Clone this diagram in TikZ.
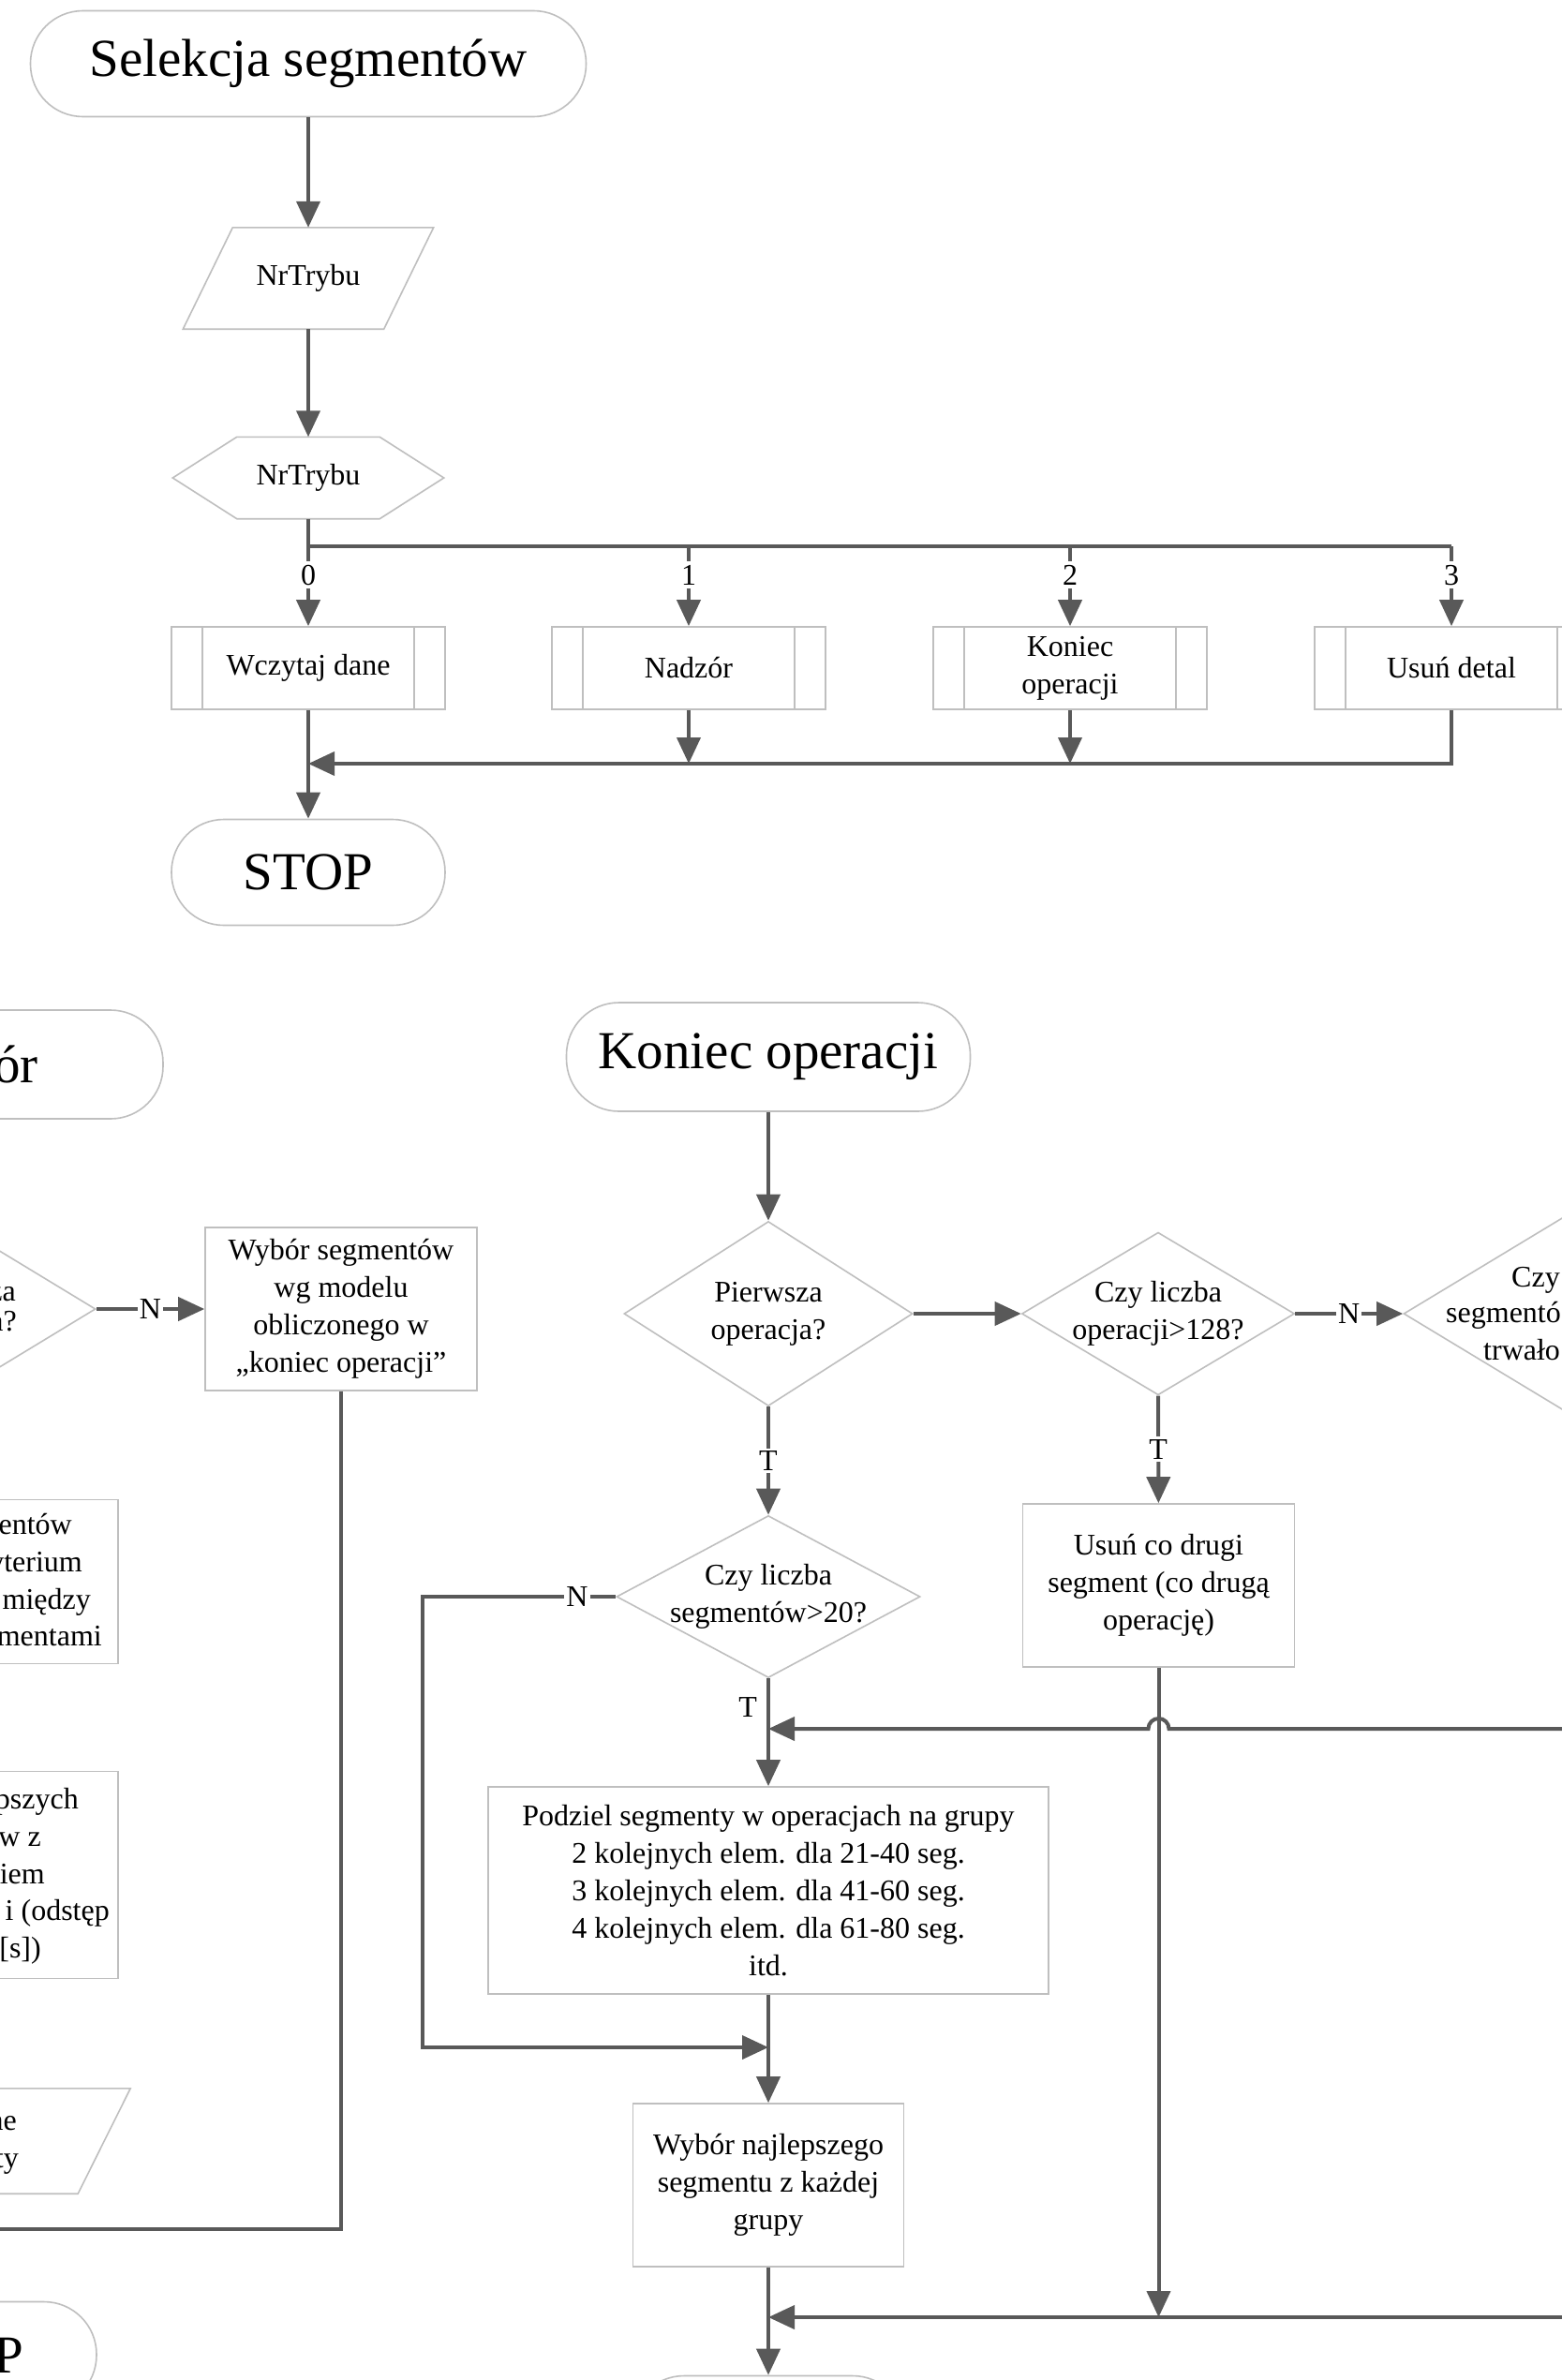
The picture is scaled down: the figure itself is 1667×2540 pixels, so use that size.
\documentclass[tikz,border=0pt]{standalone}
\usepackage{fontspec}
\setmainfont{Liberation Serif}
\usetikzlibrary{shapes.geometric,arrows.meta}

\begin{document}
\begin{tikzpicture}[x=1pt,y=1pt,yscale=-1,
  ln/.style={draw={rgb, 255:red, 89; green, 89; blue, 89}, line width=4pt},
  arr/.style={ln, -{Triangle[length=28pt,width=25pt]}},
  bd/.style={draw={rgb, 255:red, 191; green, 191; blue, 191}, line width=1.6pt},
  txt/.style={font=\fontsize{32}{40}\selectfont, inner sep=0pt, align=center},
  big/.style={font=\fontsize{57}{68}\selectfont},
  term/.style={bd, txt, big, rectangle, rounded corners=56pt, minimum height=113pt},
  proc/.style={bd, txt, rectangle},
  dec/.style={bd, txt, diamond},
  lab/.style={font=\fontsize{32}{40}\selectfont, fill=white, inner sep=3pt},
  frag/.style={font=\fontsize{32}{40}\selectfont, inner sep=0pt}
]
\useasboundingbox (0,0) rectangle (1667,2540);
\clip (0,0) rectangle (1667,2540);
\fill[white] (0,0) rectangle (1667,2540);

\node[term, minimum width=593pt] (start) at (329,68) {Selekcja segmentów};
\node[txt, minimum width=214pt, minimum height=108pt] (nr) at (329,297) {NrTrybu};
\draw[bd] ([xshift=26.5pt]nr.north west) -- ([xshift=26.5pt]nr.north east) -- ([xshift=-26.5pt]nr.south east) -- ([xshift=-26.5pt]nr.south west) -- cycle;
\node[txt, minimum width=289pt, minimum height=87pt] (sel) at (329,510) {NrTrybu};
\draw[bd] (sel.west) -- ([xshift=68.5pt]sel.north west) -- ([xshift=-68.5pt]sel.north east) -- (sel.east) -- ([xshift=-68.5pt]sel.south east) -- ([xshift=68.5pt]sel.south west) -- cycle;

\node[proc, minimum width=292pt, minimum height=88pt] (b0) at (329,713) {Wczytaj dane};
\node[proc, minimum width=292pt, minimum height=88pt] (b1) at (735,713) {Nadzór};
\node[proc, minimum width=292pt, minimum height=88pt] (b2) at (1142,713) {Koniec\\operacji};
\node[proc, minimum width=292pt, minimum height=88pt] (b3) at (1549,713) {Usuń detal};
\foreach \b in {b0,b1,b2,b3} {
  \draw[bd] ([xshift=34pt]\b.north west) -- ([xshift=34pt]\b.south west);
  \draw[bd] ([xshift=-34pt]\b.north east) -- ([xshift=-34pt]\b.south east);
}
\node[term, minimum width=292pt] (stop) at (329,931) {STOP};

\coordinate (bus) at (329,583);
\coordinate (jn) at (329,815);
\draw[arr] (start) -- (nr);
\draw[arr] (nr) -- (sel);
\draw[ln] (sel) -- (bus) -- (b3.north |- bus);
\foreach \i in {0,1,2,3}
  \draw[arr] (b\i.north |- bus) -- node[lab, pos=0.36, inner sep=4pt] (n\i) {\i} (b\i);
\draw[arr] (b0) -- (stop);
\draw[arr] (b1) -- (b1.south |- jn);
\draw[arr] (b2) -- (b2.south |- jn);
\draw[arr] (b3) |- (jn);

\node[term, minimum width=432pt, minimum height=116pt] (nadz) at (-42,1136) {};
\node[dec, aspect=1.646, minimum width=288pt, minimum height=175pt] (nd1) at (-42,1397) {};
\node[proc, minimum width=290pt, minimum height=174pt] (nw) at (364,1397) {Wybór segmentów\\wg modelu\\obliczonego w\\„koniec operacji”};
\node[proc, minimum width=336pt, minimum height=175pt] (nb1) at (-42,1688) {};
\node[proc, minimum width=336pt, minimum height=221pt] (nb2) at (-42,2001) {};
\node[txt, minimum width=306pt, minimum height=112pt] (np) at (-42,2285) {};
\draw[bd] ([xshift=28pt]np.north west) -- ([xshift=28pt]np.north east) -- ([xshift=-28pt]np.south east) -- ([xshift=-28pt]np.south west) -- cycle;
\node[term, minimum width=290pt] (nstop) at (-42,2513) {};
\foreach \t/\x/\y [count=\k] in {za/17/1388, a?/18/1420, entów/77/1637, yterium/88/1677, między/97/1717, mentami/109/1756, pszych/84/1930, w z/44/1970, iem/48/2010, i (odstęp/117/2049, {[s])}/44/2089, ne/18/2273, ty/20/2313}
  \node[frag, anchor=base east] (fl\k) at (\x,\y) {\t};
\node[frag, big, anchor=base east] (fa) at (41,1155) {ór};
\node[frag, big, anchor=base east] (fb) at (25,2532) {P};

\coordinate (lb) at (-20,2379);
\draw[arr] (nd1) -- node[lab, inner sep=2pt] (nN) {N} (nw);
\draw[ln] (nw) -- (nw.south |- lb) -- (lb);

\node[term, minimum width=431pt, minimum height=116pt] (kon) at (820,1128) {Koniec operacji};
\node[dec, aspect=1.563, minimum width=308pt, minimum height=197pt] (k1) at (820,1402) {Pierwsza\\operacja?};
\node[dec, aspect=1.676, inner xsep=-4pt, minimum width=290pt, minimum height=173pt] (k2) at (1236,1402) {Czy liczba\\operacji>128?};
\node[dec, aspect=1.65, minimum width=430pt, minimum height=260pt] (k3) at (1713,1402) {};
\node[dec, aspect=1.873, inner xsep=-8pt, minimum width=324pt, minimum height=173pt] (k4) at (820,1704) {Czy liczba\\segmentów>20?};
\node[proc, minimum width=290pt, minimum height=174pt] (k5) at (1236.5,1692) {Usuń co drugi\\segment (co drugą\\operację)};
\node[proc, minimum width=598pt, minimum height=221pt] (k6) at (820,2017.5) {Podziel segmenty w operacjach na grupy\\2 kolejnych elem. dla 21-40 seg.\\3 kolejnych elem. dla 41-60 seg.\\4 kolejnych elem. dla 61-80 seg.\\itd.};
\node[proc, minimum width=289pt, minimum height=174pt] (k7) at (820,2332) {Wybór najlepszego\\segmentu z każdej\\grupy};
\node[term, minimum width=292pt] (k8) at (820,2592) {};
\node[frag, anchor=base west] (c1) at (1613,1373) {Czy};
\node[frag, anchor=base west] (c2) at (1543,1411) {segmentó};
\node[frag, anchor=base west] (c3) at (1583,1451) {trwało};

\coordinate (nl) at (451,2185);
\coordinate (nj) at (820,2185);
\coordinate (hr) at (1690,1845);
\coordinate (hj) at (820,1845);
\coordinate (br) at (1690,2473);
\coordinate (bj) at (820,2473);
\draw[arr] (kon) -- (k1);
\draw[arr] (k1) -- (k2);
\draw[arr] (k2) -- node[lab, inner sep=2pt] (kN) {N} (k3);
\draw[arr] (k1) -- node[lab] (kT1) {T} (k4);
\draw[arr] (k2) -- node[lab] (kT2) {T} (k5);
\draw[arr] (k4.west) -- node[lab, pos=0.2, inner sep=2pt] (kN2) {N} (k4.west -| nl) -- (nl) -- (nj);
\draw[arr] (k4) -- node[frag, pos=0.27, left=10pt] (kT3) {T} (k6);
\draw[arr] (hr) -- (1247.5,1845) arc[start angle=0, end angle=-180, radius=11pt] -- (hj);
\draw[arr] (k5) -- (k5.south |- bj);
\draw[arr] (br) -- (bj);
\draw[arr] (k6) -- (k7);
\draw[arr] (k7) -- (k8);

\end{tikzpicture}
\end{document}
